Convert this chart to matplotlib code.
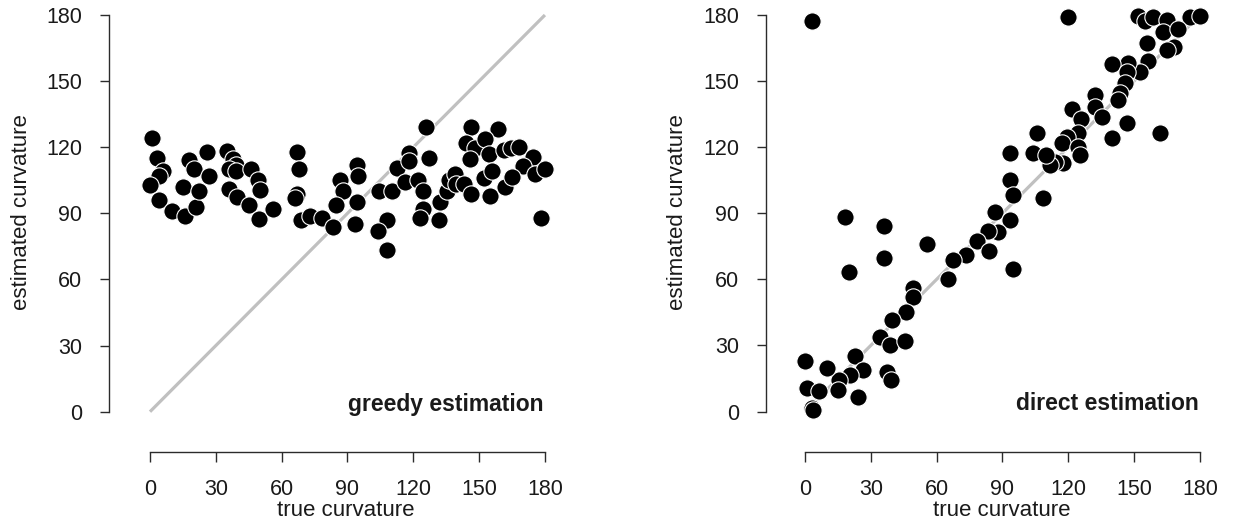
import matplotlib
matplotlib.use("Agg")
import matplotlib.pyplot as plt

plt.rcParams['font.family'] = ['Liberation Sans', 'DejaVu Sans']

# ---- data: greedy estimation (true, estimated) ----
greedy_true = [1, 3, 6, 4, 0, 4, 10, 16, 21, 15, 18, 20, 22.5, 26, 27, 35, 38, 39, 36, 39,
               36, 39.5, 46, 49, 50, 45, 49.5, 56, 67, 68, 67, 66, 69, 73, 78.5,
               126, 146.5, 158.5, 144, 148, 152.5, 154.5, 146, 161.5, 164.5, 168, 174.5, 170,
               175.5, 180, 178, 94.5, 95, 86.5, 88, 85, 94.3, 83.5, 93.5, 104.5, 110.5, 108,
               104, 108, 112.5, 118, 118, 116, 122, 124.5, 127, 124.5, 123, 131.5, 132, 135.5,
               136.5, 139, 139.5, 143, 146.5, 152, 156, 155, 162, 165]
greedy_est = [124, 115, 109, 107, 103, 96, 91, 89, 93, 102, 114, 110, 100, 118, 107, 118.5, 114.5,
              112, 110, 109, 101, 97.5, 110, 105, 100.5, 93.6, 87.5, 92, 118, 110, 99, 97, 87, 89, 88,
              129, 129, 128.3, 122, 119.5, 123.6, 117, 114.5, 118.7, 119.5, 120, 115.4, 111.3,
              108, 110, 88, 112, 107, 105, 100, 93.6, 95, 84, 85, 100, 100, 87,
              82, 73.5, 110.7, 117.5, 113.7, 104.3, 105, 100, 115, 92, 88, 87, 95, 100,
              105, 108, 103.5, 103.5, 99, 106, 109, 97.7, 102, 106.6]

# ---- data: direct estimation (true, estimated) ----
direct_true = [3, 120, 152, 155, 158.8, 164.9, 175.5, 180, 163, 170, 155.7, 168, 165, 156.5, 152.7,
               147.4, 139.8, 146.6, 145.9, 143.6, 142.8, 132.2, 132.2, 121.5, 126, 135.2, 146.6,
               161.8, 139.8, 124.6, 119.3, 117, 124.6, 125.3, 117.7, 114, 111.7, 105.6, 104, 110,
               93.4, 93.4, 95, 108.6, 86.6, 93.4,
               18.2, 36, 55.7, 36, 20, 88.1, 83.5, 78.2, 84, 94.7, 73.4, 67.6, 65.3, 49.4, 49.4,
               46, 39.5, 34.2, 38.7, 45.6, 22.8, 26.3, 20.5, 15.6, 37.5, 39, 0, 9.9, 1, 6.5, 15.2,
               24, 3, 3.8]
direct_est = [177.4, 179.2, 179.5, 177.4, 179, 177.7, 179.2, 179.5, 172.4, 173.5, 167.2, 165.3, 164,
              159, 154.3, 158, 157.6, 154.3, 149, 144.5, 141.4, 143.7, 138.4, 137.2, 133, 133.8,
              130.8, 126.3, 124, 126.3, 124.8, 121.8, 120.2, 116.5, 112.7, 113.4, 112, 126.3,
              117.2, 116.5, 117.2, 105, 98.3, 96.8, 90.7, 87,
              88.5, 84, 76, 69.6, 63.5, 81.7, 82.1, 77.6, 72.9, 64.7, 71, 68.8, 60, 56, 52.2,
              45.4, 41.6, 34, 30.3, 31.8, 25, 19, 16.7, 14.4, 18.1, 14.4, 23, 19.7, 10.6, 9.4,
              9.8, 6.8, 1.5, 0.8]

ticks = [0, 30, 60, 90, 120, 150, 180]
panel_titles = ["greedy estimation", "direct estimation"]
xlabel = "true curvature"
ylabel = "estimated curvature"

W, H = 1233, 521
fig = plt.figure(figsize=(W / 100, H / 100), dpi=100)
fig.patch.set_facecolor('white')

spine_col = '#2b2b2b'
text_col = '#1a1a1a'

# axes geometry in pixels: (left spine x, bottom spine y, top y, right x)
geoms = [(109.3, 451.7, 8.4, 558.1), (765.7, 451.5, 8.4, 1213.1)]
xlims = [(-18.55, 186.0), (-17.9, 186.0)]
data = [(greedy_true, greedy_est), (direct_true, direct_est)]

for i in range(2):
    lx, by, ty, rx = geoms[i]
    ax = fig.add_axes([lx / W, (H - by) / H, (rx - lx) / W, (by - ty) / H])
    ax.set_xlim(*xlims[i])
    ax.set_ylim(-18.15, 183.0)
    ax.patch.set_alpha(0)
    for s in ['top', 'right']:
        ax.spines[s].set_visible(False)
    for s in ['left', 'bottom']:
        ax.spines[s].set_bounds(0, 180)
        ax.spines[s].set_color(spine_col)
        ax.spines[s].set_linewidth(1.0)
    ax.set_xticks(ticks)
    ax.set_yticks(ticks)
    ax.set_xticklabels([str(t) for t in ticks])
    ax.set_yticklabels([str(t) for t in ticks])
    ax.tick_params(axis='x', direction='out', length=7.5, width=1.0, color=spine_col,
                   labelsize=15.5, labelcolor=text_col, pad=12.5)
    ax.tick_params(axis='y', direction='out', length=6.8, width=1.0, color=spine_col,
                   labelsize=15.5, labelcolor=text_col, pad=12.5)

    # identity line
    ax.plot([0, 180], [0, 180], color='#c0c0c0', lw=2.3, zorder=1, solid_capstyle='butt')

    xs, ys = data[i]
    ax.scatter(xs, ys, s=155, facecolor='black', edgecolor='white', linewidth=0.8,
               zorder=3, clip_on=False)

    ax.text(179.5, 0.5, panel_titles[i], ha='right', va='baseline', fontsize=16.5,
            fontweight='bold', color=text_col, zorder=4)

    axw = rx - lx
    axh = by - ty
    ax.text((346 - 109.3) / 448.8, (by - 516) / axh, xlabel, transform=ax.transAxes,
            ha='center', va='baseline', fontsize=16, color=text_col)
    ax.text((26.7 - 109.3) / axw, (by - 212.5) / axh, ylabel, transform=ax.transAxes,
            ha='center', va='baseline', rotation=90, rotation_mode='anchor',
            fontsize=16, color=text_col)

fig.savefig('out.png', dpi=100, facecolor='white')
